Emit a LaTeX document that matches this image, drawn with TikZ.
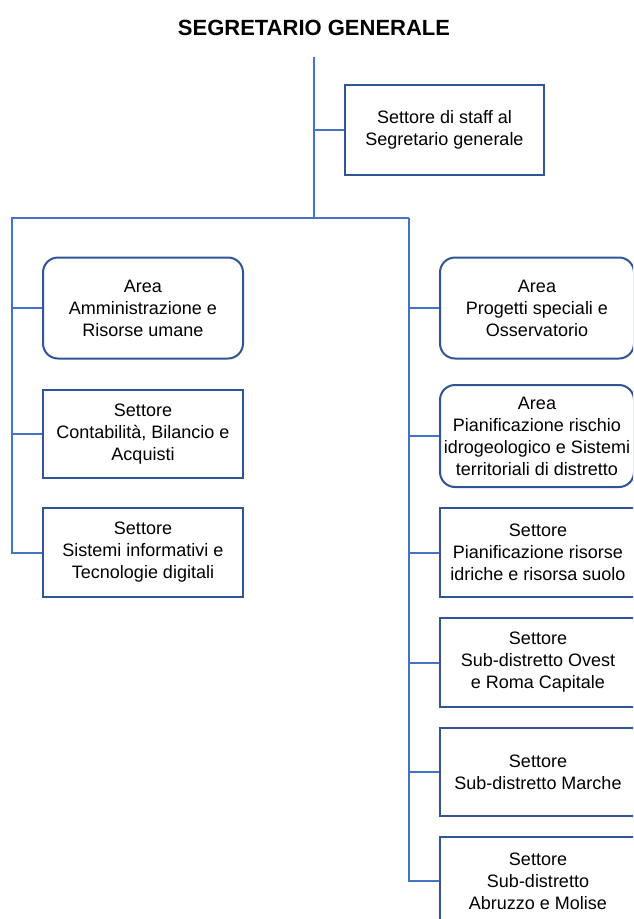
\documentclass[tikz,border=0pt]{standalone}
\usepackage{fontspec}
\setmainfont{Liberation Sans}
\definecolor{connblue}{HTML}{4472C4}
\definecolor{boxblue}{HTML}{2F5597}
\tikzset{
  conn/.style={draw=connblue, line width=2pt},
  orgbox/.style={draw=boxblue, line width=2pt, fill=white, align=center, inner sep=0pt,
    font=\fontsize{18}{22}\selectfont},
  roundbox/.style={orgbox, rounded corners=15pt},
}
\begin{document}
\begin{tikzpicture}[x=1pt,y=1pt]
\useasboundingbox (0,0) rectangle (633,-919);
\clip (0,0) rectangle (633,-919);
\node[font=\fontsize{22}{26}\selectfont\bfseries] (title) at (314,-28) {SEGRETARIO GENERALE};
\node[orgbox, minimum width=199pt, minimum height=90pt] (staff) at (444.5,-130) {Settore di staff al\\Segretario generale};
\node[roundbox, minimum width=200pt, minimum height=101pt] (amm) at (143,-308) {Area\\Amministrazione e\\Risorse umane};
\node[orgbox, minimum width=200pt, minimum height=88pt] (cont) at (143,-434) {Settore\\Contabilità, Bilancio e\\Acquisti};
\node[orgbox, minimum width=200pt, minimum height=89pt] (sist) at (143,-552.5) {Settore\\Sistemi informativi e\\Tecnologie digitali};
\node[roundbox, minimum width=194pt, minimum height=101pt] (prog) at (537,-308) {Area\\Progetti speciali e\\Osservatorio};
\node[roundbox, minimum width=194pt, minimum height=102pt] (risch) at (537,-436) {Area\\Pianificazione rischio\\idrogeologico e Sistemi\\territoriali di distretto};
\node[orgbox, minimum width=196pt, minimum height=89pt] (ris) at (538,-552.5) {Settore\\Pianificazione risorse\\idriche e risorsa suolo};
\node[orgbox, minimum width=196pt, minimum height=89pt] (ovest) at (538,-662.5) {Settore\\Sub-distretto Ovest\\e Roma Capitale};
\node[orgbox, minimum width=196pt, minimum height=88pt] (marche) at (538,-772) {Settore\\Sub-distretto Marche};
\node[orgbox, minimum width=196pt, minimum height=88pt] (abruzzo) at (538,-881) {Settore\\Sub-distretto\\Abruzzo e Molise};
\coordinate (top) at (314,-57);
\coordinate (busM) at (314,-218);
\coordinate (busL) at (12,-218);
\coordinate (busR) at (409,-218);
\draw[conn] (top) -- (busM);
\draw[conn] (top |- staff.west) -- (staff.west);
\draw[conn] (busR) -- (busL) -- (busL |- sist.west) -- (sist.west);
\draw[conn] (busL |- amm.west) -- (amm.west);
\draw[conn] (busL |- cont.west) -- (cont.west);
\draw[conn] (busR) -- (busR |- abruzzo.west) -- (abruzzo.west);
\draw[conn] (busR |- prog.west) -- (prog.west);
\draw[conn] (busR |- risch.west) -- (risch.west);
\draw[conn] (busR |- ris.west) -- (ris.west);
\draw[conn] (busR |- ovest.west) -- (ovest.west);
\draw[conn] (busR |- marche.west) -- (marche.west);
\end{tikzpicture}
\end{document}
